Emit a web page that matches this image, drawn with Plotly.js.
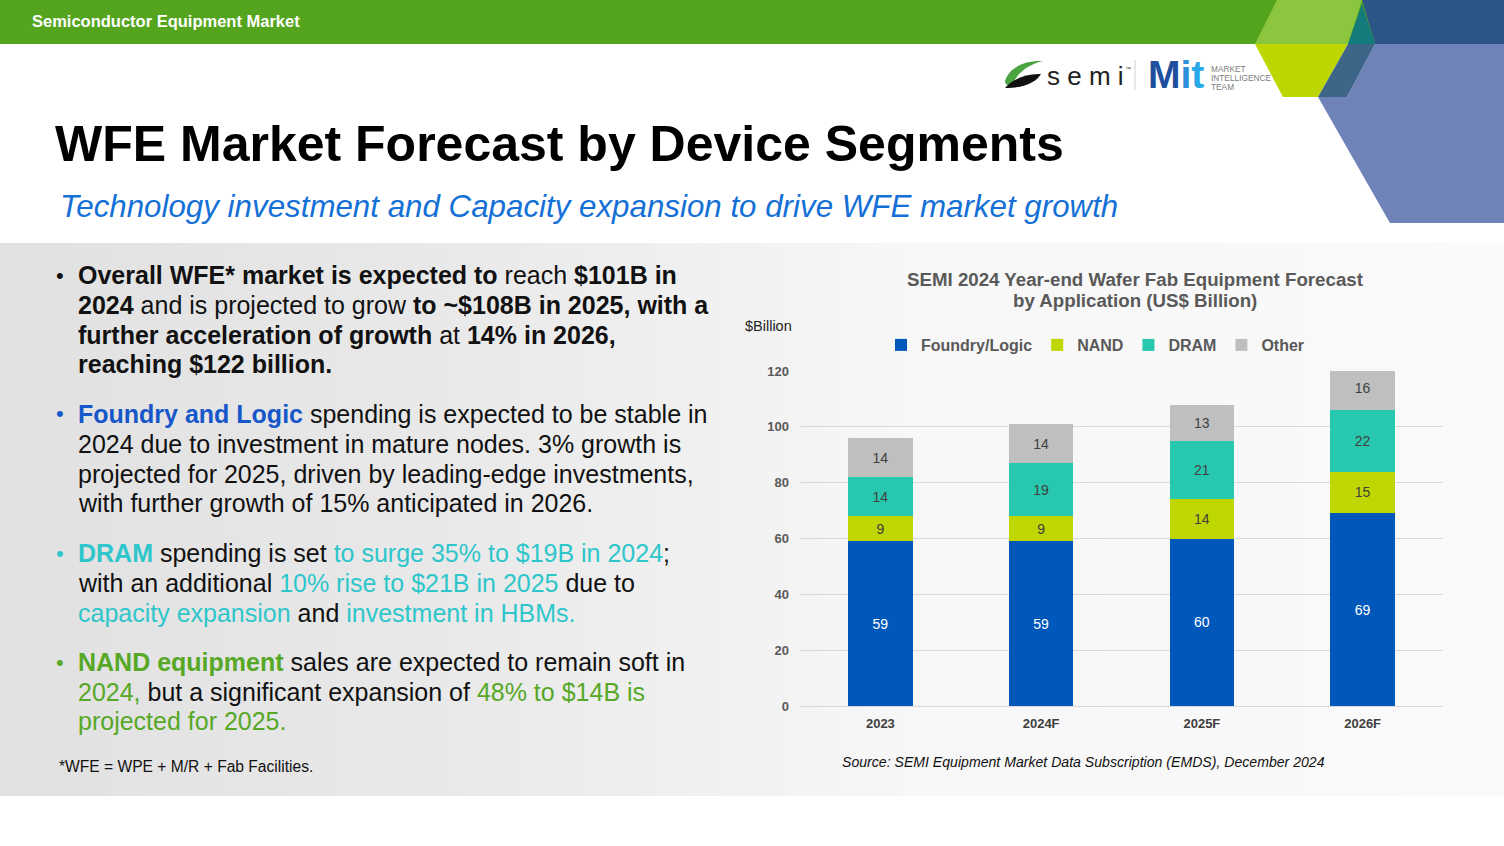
<!DOCTYPE html>
<html>
<head>
<meta charset="utf-8">
<script src="https://cdn.plot.ly/plotly-3.0.1.min.js"></script>
<style>
  html, body { margin: 0; padding: 0; background: #ffffff; }
  #wrap { position: relative; width: 1504px; height: 846px; overflow: hidden; background: #ffffff; }
  #band { position: absolute; left: 0; top: 243px; width: 1504px; height: 553px;
          background: linear-gradient(to right, #e1e1e1 0%, #e9e9e9 30%, #f1f1f1 48%, #f7f7f7 60%, #fafafa 100%); }
  #chart { position: absolute; left: 0; top: 0; width: 1504px; height: 846px; }
</style>
</head>
<body>
<div id="wrap"><div id="band"></div><div id="chart"></div></div>
<script>
// ---- data ----
const years = ['2023', '2024F', '2025F', '2026F'];
const foundryLogic = [59, 59, 60, 69];
const nand = [9, 9, 14, 15];
const dram = [14, 19, 21, 22];
const other = [14, 14, 13, 16];
const yTicks = [0, 20, 40, 60, 80, 100, 120];
const seriesNames = ['Foundry/Logic', 'NAND', 'DRAM', 'Other'];

// ---- helpers ----
const W = 1504, H = 846;
const FONT = 'Liberation Sans, Arial, Helvetica, sans-serif';
const px = x => x / W;
const py = y => 1 - y / H;
function poly(pts, color) {
  const d = pts.map((p, i) => (i ? 'L' : 'M') + px(p[0]).toFixed(5) + ',' + py(p[1]).toFixed(5)).join(' ') + ' Z';
  return { type: 'path', xref: 'paper', yref: 'paper', path: d, fillcolor: color, line: { width: 0 }, layer: 'above' };
}
function pathPx(d, color) {
  const out = d.replace(/(-?\d+(?:\.\d+)?),(-?\d+(?:\.\d+)?)/g, (m, a, b) => px(+a).toFixed(5) + ',' + py(+b).toFixed(5));
  return { type: 'path', xref: 'paper', yref: 'paper', path: out, fillcolor: color, line: { width: 0 }, layer: 'above' };
}
function ann(text, x, y, o) {
  o = o || {};
  const xa = o.xanchor || 'left';
  const xx = xa === 'left' ? x - 2 : x;
  return {
    text: text, xref: 'paper', yref: 'paper', x: px(xx), y: py(y),
    xanchor: xa, yanchor: 'middle', align: o.align || 'left', showarrow: false,
    font: { family: FONT, size: o.size || 25, color: o.color || '#111111' }
  };
}

const BLUE = '#1657c9', TEAL = '#2ec6cb', GREEN = '#56a826';
const b = t => '<b>' + t + '</b>';
const c = (t, col) => '<span style="color:' + col + '">' + t + '</span>';

// ---- traces ----
const colors = ['#0058bb', '#bfd600', '#27c8ae', '#bfbfbf'];
const textColors = ['#ffffff', '#404040', '#404040', '#404040'];
const values = [foundryLogic, nand, dram, other];
const traces = values.map((v, i) => ({
  type: 'bar', name: seriesNames[i], x: years, y: v,
  marker: { color: colors[i], line: { width: 0 } },
  text: v.map(String), textposition: 'inside', insidetextanchor: 'middle',
  textangle: 0, constraintext: 'none',
  textfont: { family: FONT, size: 14, color: textColors[i] },
  hoverinfo: 'skip'
}));

// ---- shapes ----
const shapes = [
  { type: 'rect', xref: 'paper', yref: 'paper', x0: 0, x1: 1, y0: py(44), y1: 1, fillcolor: '#54a41e', line: { width: 0 }, layer: 'above' },
  poly([[1277, 0], [1362, 0], [1348, 44], [1255, 44]], '#8cc63f'),
  poly([[1362, 0], [1504, 0], [1504, 44], [1375, 44]], '#2c5688'),
  poly([[1362, 4], [1375, 44], [1348, 44]], '#137b7b'),
  poly([[1255, 44], [1348, 44], [1318, 97], [1283, 97]], '#bed600'),
  poly([[1375, 44], [1504, 44], [1504, 223], [1390, 223], [1318, 97], [1347, 97]], '#7083b8'),
  poly([[1348, 44], [1375, 44], [1347, 97], [1318, 97]], '#3d6588'),
  // semi swooshes
  pathPx('M1005,81 C1009,68 1024,60 1043,61 C1030,64 1019,71 1013,83 C1010,86 1005,86 1005,81 Z', '#4aa541'),
  pathPx('M1005,88 C1012,80 1026,73 1041,74 C1037,81 1026,88 1005,88 Z', '#111111'),
  // divider
  { type: 'line', xref: 'paper', yref: 'paper', x0: px(1135), x1: px(1135), y0: py(60), y1: py(90), line: { color: '#cfcfcf', width: 1 }, layer: 'above' }
];

// ---- annotations ----
const annotations = [
  ann(b('Semiconductor Equipment Market'), 32, 21, { size: 16.5, color: '#ffffff' }),
  ann('s e m i', 1047, 76, { size: 26, color: '#222222' }),
  ann('™', 1125, 69, { size: 6, color: '#444444' }),
  ann(b(c('M', '#1d4f9e') + c('i', '#2d8fd8') + c('t', '#29a9e8')), 1148, 75, { size: 39 }),
  ann('MARKET', 1211, 69, { size: 8.3, color: '#7d7d7d' }),
  ann('INTELLIGENCE', 1211, 78, { size: 8.3, color: '#7d7d7d' }),
  ann('TEAM', 1211, 87, { size: 8.3, color: '#7d7d7d' }),
  ann(b('WFE Market Forecast by Device Segments'), 55, 144, { size: 50, color: '#000000' }),
  ann('<i>Technology investment and Capacity expansion to drive WFE market growth</i>', 60, 206, { size: 31.3, color: '#1470d6' }),

  // bullet 1
  ann('•', 60, 275, { xanchor: 'center', size: 22, color: '#111111' }),
  ann(b('Overall WFE* market is expected to') + ' reach ' + b('$101B in'), 78, 275),
  ann(b('2024') + ' and is projected to grow ' + b('to ~$108B in 2025, with a'), 78, 305),
  ann(b('further acceleration of growth') + ' at ' + b('14% in 2026,'), 78, 335),
  ann(b('reaching $122 billion.'), 78, 364),
  // bullet 2
  ann('•', 60, 414, { xanchor: 'center', size: 22, color: BLUE }),
  ann(b(c('Foundry and Logic', BLUE)) + ' spending is expected to be stable in', 78, 414),
  ann('2024 due to investment in mature nodes. 3% growth is', 78, 444),
  ann('projected for 2025, driven by leading-edge investments,', 78, 474),
  ann('with further growth of 15% anticipated in 2026.', 78, 503),
  // bullet 3
  ann('•', 60, 553, { xanchor: 'center', size: 22, color: TEAL }),
  ann(b(c('DRAM', TEAL)) + ' spending is set ' + c('to surge 35% to $19B in 2024', TEAL) + ';', 78, 553),
  ann('with an additional ' + c('10% rise to $21B in 2025', TEAL) + ' due to', 78, 583),
  ann(c('capacity expansion', TEAL) + ' and ' + c('investment in HBMs.', TEAL), 78, 613),
  // bullet 4
  ann('•', 60, 662, { xanchor: 'center', size: 22, color: GREEN }),
  ann(b(c('NAND equipment', GREEN)) + ' sales are expected to remain soft in', 78, 662),
  ann(c('2024,', GREEN) + ' but a significant expansion of ' + c('48% to $14B is', GREEN), 78, 692),
  ann(c('projected for 2025.', GREEN), 78, 721),
  // footnote
  ann('*WFE = WPE + M/R + Fab Facilities.', 59, 766, { size: 15.6, color: '#111111' }),

  // chart texts
  ann(b('SEMI 2024 Year-end Wafer Fab Equipment Forecast'), 1135, 279, { xanchor: 'center', size: 18.7, color: '#595959' }),
  ann(b('by Application (US$ Billion)'), 1135, 300, { xanchor: 'center', size: 18.7, color: '#595959' }),
  ann('$Billion', 745, 326, { size: 14.5, color: '#222222' }),
  ann('<i>Source: SEMI Equipment Market Data Subscription (EMDS), December 2024</i>', 842, 762, { size: 14.1, color: '#111111' })
];

const layout = {
  width: W, height: H,
  margin: { l: 0, r: 0, t: 0, b: 0, pad: 0 },
  paper_bgcolor: 'rgba(0,0,0,0)', plot_bgcolor: 'rgba(0,0,0,0)',
  barmode: 'stack', bargap: 0.6,
  showlegend: true,
  legend: {
    orientation: 'h', x: px(881), xanchor: 'left', y: py(345), yanchor: 'middle',
    font: { family: FONT, size: 16, color: '#595959', weight: 'bold' },
    bgcolor: 'rgba(0,0,0,0)', traceorder: 'normal'
  },
  xaxis: {
    domain: [px(800), px(1443)], type: 'category', fixedrange: true,
    showgrid: false, zeroline: false, showline: false, ticks: '',
    tickfont: { family: FONT, size: 13, color: '#404040', weight: 'bold' },
    ticklabelstandoff: 8
  },
  yaxis: {
    domain: [py(706), py(371)], range: [0, 120], fixedrange: true,
    tickvals: yTicks, ticktext: yTicks.map(String),
    showgrid: true, gridcolor: '#d9d9d9', gridwidth: 1,
    zeroline: true, zerolinecolor: '#d9d9d9', zerolinewidth: 1,
    showline: false, ticks: '',
    tickfont: { family: FONT, size: 13, color: '#595959', weight: 'bold' },
    ticklabelstandoff: 10
  },
  shapes: shapes,
  annotations: annotations,
  hovermode: false
};

Plotly.newPlot('chart', traces, layout, { displayModeBar: false, staticPlot: true });
</script>
</body>
</html>
